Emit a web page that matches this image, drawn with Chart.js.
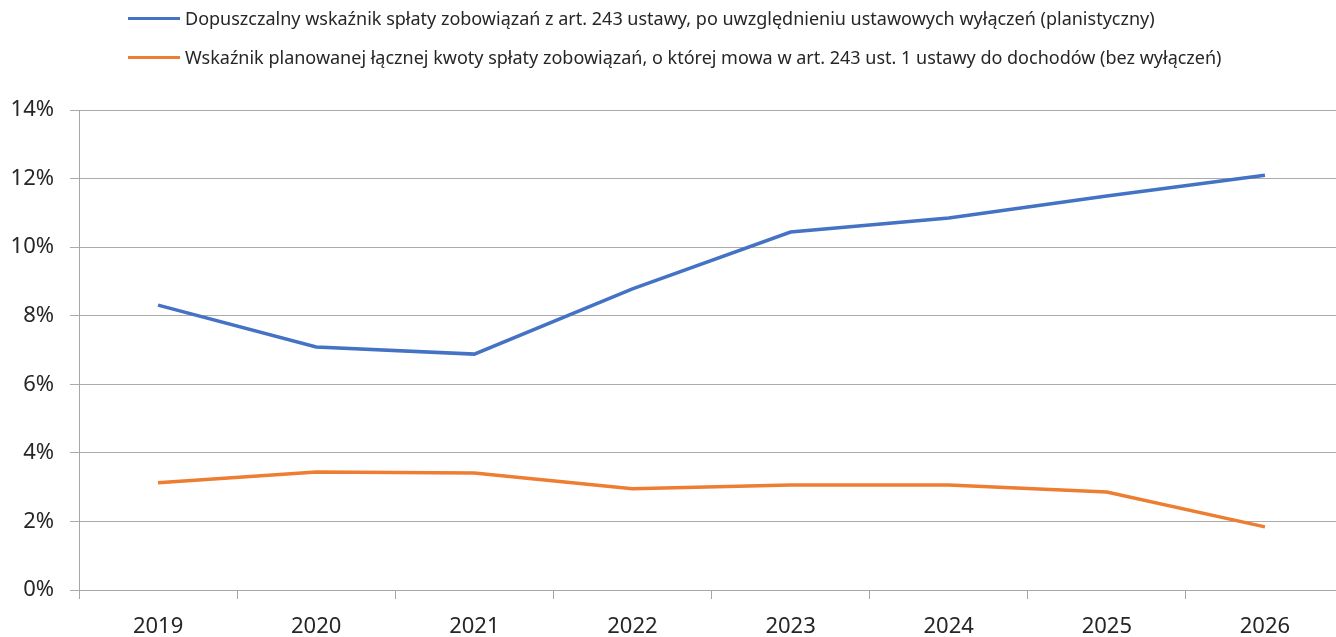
<!DOCTYPE html>
<html lang="pl">
  <head>
    <meta charset="UTF-8" />
    <title>Wskaźniki spłaty zobowiązań</title>
    <script src="https://cdn.jsdelivr.net/npm/chart.js"></script>
    <style>
      html,
      body {
        margin: 0;
        padding: 0;
        background: #fff;
        overflow: hidden;
        font-family: "Noto Sans", sans-serif;
      }
      .wrap {
        position: relative;
        width: 1344px;
        height: 637px;
      }
      .legend {
        position: absolute;
        left: 128px;
        top: 0;
        color: #262626;
        font-size: 18px;
      }
      .legend-item {
        position: absolute;
        left: 0;
        white-space: nowrap;
        display: flex;
        align-items: center;
      }
      .legend-item span.swatch {
        display: inline-block;
        width: 52px;
        height: 3px;
        margin-right: 5px;
      }
    </style>
  </head>
  <body>
    <div class="wrap">
      <canvas id="chart"></canvas>
      <div class="legend" id="legend"></div>
    </div>

    <script>
      const years = ["2019", "2020", "2021", "2022", "2023", "2024", "2025", "2026"];
      const allowedRatio = [8.31, 7.09, 6.88, 8.78, 10.44, 10.85, 11.49, 12.1];
      const plannedRatio = [3.13, 3.44, 3.41, 2.95, 3.06, 3.06, 2.86, 1.84];
      const seriesLabels = [
        "Dopuszczalny wskaźnik spłaty zobowiązań z art. 243 ustawy, po uwzględnieniu ustawowych wyłączeń (planistyczny)",
        "Wskaźnik planowanej łącznej kwoty spłaty zobowiązań, o której mowa w art. 243 ust. 1 ustawy do dochodów (bez wyłączeń)",
      ];
      const colors = ["#4472C4", "#ED7D31"];

      const ctx = document.getElementById("chart").getContext("2d");
      const chart = new Chart(ctx, {
        type: "line",
        data: {
          labels: years,
          datasets: [
            {
              label: seriesLabels[0],
              data: allowedRatio,
              borderColor: colors[0],
              borderWidth: 3.5,
              pointRadius: 0,
              fill: false,
            },
            {
              label: seriesLabels[1],
              data: plannedRatio,
              borderColor: colors[1],
              borderWidth: 3.5,
              pointRadius: 0,
              fill: false,
            },
          ],
        },
        options: {
          responsive: true,
          maintainAspectRatio: false,
          animation: false,
          layout: { padding: { top: 110, left: 0, right: 0, bottom: 0 } },
          plugins: {
            legend: { display: false },
            tooltip: { enabled: false },
          },
          scales: {
            x: {
              offset: true,
              grid: {
                offset: true,
                drawOnChartArea: false,
                drawTicks: true,
                tickLength: 9,
                color: "#a6a6a6",
              },
              border: { color: "#a6a6a6" },
              ticks: {
                color: "#262626",
                padding: 15,
                font: { family: "Noto Sans", size: 22 },
              },
              afterFit: (scale) => {
                scale.height = 47;
              },
            },
            y: {
              min: 0,
              max: 14,
              ticks: {
                stepSize: 2,
                color: "#262626",
                padding: 16,
                font: { family: "Noto Sans", size: 22 },
                callback: (v) => v + "%",
              },
              grid: { color: "#ababab", tickLength: 9 },
              border: { color: "#a6a6a6" },
              afterFit: (scale) => {
                scale.width = 79;
              },
            },
          },
        },
      });

      // legend as html, two rows like the original
      const legend = document.getElementById("legend");
      const rowsY = [18, 57];
      chart.data.datasets.forEach((ds, i) => {
        const item = document.createElement("div");
        item.className = "legend-item";
        item.style.top = rowsY[i] - 12 + "px";
        item.style.height = "24px";
        const sw = document.createElement("span");
        sw.className = "swatch";
        sw.style.background = ds.borderColor;
        const txt = document.createElement("span");
        txt.textContent = ds.label;
        item.appendChild(sw);
        item.appendChild(txt);
        legend.appendChild(item);
      });
    </script>
  </body>
</html>
